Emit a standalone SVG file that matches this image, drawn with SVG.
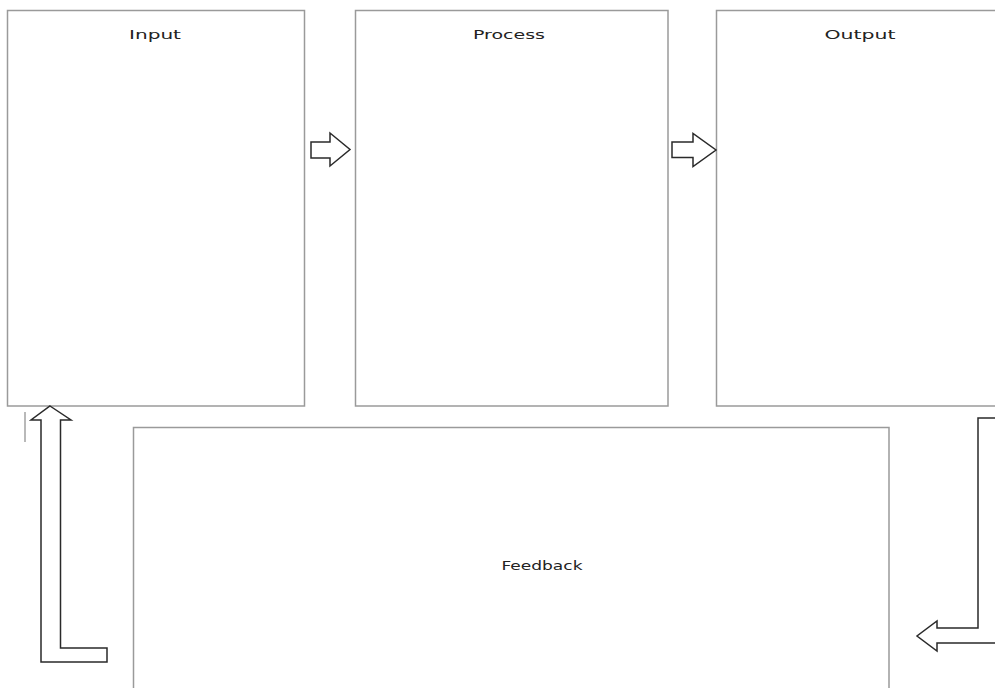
<svg xmlns="http://www.w3.org/2000/svg" width="995" height="688" viewBox="0 0 995 688">
<style>
.box{fill:#fff;stroke:#9a9a9a;stroke-width:1.5}
.arr{fill:#fff;stroke:#2a2a2a;stroke-width:1.5;stroke-linejoin:miter}
.lbl{font-family:"DejaVu Sans",Verdana,sans-serif;font-size:13px;fill:#222;text-anchor:middle}
</style>
<rect width="995" height="688" fill="#fff"/>
<g id="input"><rect class="box" x="7.5" y="10.5" width="297" height="395.5"/><text class="lbl" x="155" y="39" textLength="52" lengthAdjust="spacingAndGlyphs">Input</text></g>
<g id="process"><rect class="box" x="355.5" y="10.5" width="312.5" height="395.5"/><text class="lbl" x="509" y="39" textLength="72" lengthAdjust="spacingAndGlyphs">Process</text></g>
<g id="output"><rect class="box" x="716.5" y="10.5" width="300" height="395.5"/><text class="lbl" x="860" y="39" textLength="71" lengthAdjust="spacingAndGlyphs">Output</text></g>
<g id="feedback"><rect class="box" x="133.5" y="427.5" width="755.5" height="280"/><text class="lbl" x="542" y="570" textLength="81" lengthAdjust="spacingAndGlyphs">Feedback</text></g>
<g id="connectors">
<polygon class="arr" points="311,142 330,142 330,133 350,149.5 330,166 330,158 311,158"/>
<polygon class="arr" points="672,142 693,142 693,133.5 716,150 693,166.5 693,157.5 672,157.5"/>
<polygon class="arr" points="50,406 71,420 60.5,420 60.5,648 107,648 107,662 41,662 41,420 31,420"/>
<polygon class="arr" points="1005,418 978,418 978,628 937,628 937,621 917,636 937,651 937,643 1005,643"/>
<line x1="25" y1="412" x2="25" y2="442" stroke="#8a8a8a" stroke-width="1.2"/>
</g>
</svg>
